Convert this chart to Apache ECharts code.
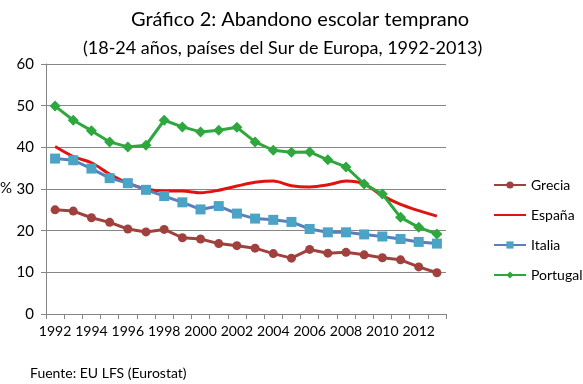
<!DOCTYPE html>
<html><head><meta charset="utf-8">
<script src="https://cdn.jsdelivr.net/npm/echarts@6/dist/echarts.min.js"></script>
<style>html,body{margin:0;padding:0;background:#fff}#c{width:583px;height:384px}</style>
</head><body><div id="c"></div>
<script>
var years = ['1992','1993','1994','1995','1996','1997','1998','1999','2000','2001','2002','2003','2004','2005','2006','2007','2008','2009','2010','2011','2012','2013'];
var grecia = [25.0,24.7,23.1,22.0,20.4,19.7,20.3,18.3,18.0,16.9,16.4,15.8,14.5,13.4,15.5,14.6,14.8,14.2,13.5,13.0,11.3,9.9];
var espana = [40.2,37.8,36.3,33.6,31.4,30.0,29.5,29.5,29.1,29.7,30.7,31.6,31.9,30.8,30.5,31.0,31.9,31.2,28.4,26.3,24.8,23.5];
var italia = [37.3,36.9,34.9,32.6,31.4,29.8,28.3,26.8,25.1,25.9,24.1,22.9,22.6,22.1,20.4,19.6,19.6,19.1,18.6,18.0,17.3,16.9];
var portugal = [49.9,46.5,44.0,41.3,40.1,40.5,46.5,44.9,43.7,44.1,44.8,41.3,39.3,38.8,38.9,37.0,35.3,31.2,28.8,23.2,20.8,19.2];
var yTicks = [0,10,20,30,40,50,60];
var FONT = 'Lato, "Open Sans", sans-serif';
var chart = echarts.init(document.getElementById('c'), null, {renderer:'canvas'});
chart.setOption({
  animation:false,
  backgroundColor:'#fff',
  title:[
    {text:'Gráfico 2: Abandono escolar temprano', left:126, top:5, textStyle:{fontFamily:FONT,fontSize:20,fontWeight:'normal',color:'#000'}},
    {text:'(18-24 años, países del Sur de Europa, 1992-2013)', left:78, top:34, textStyle:{fontFamily:FONT,fontSize:18,fontWeight:'normal',color:'#000'}}
  ],
  grid:{left:46,right:137,top:64,bottom:70},
  legend:{
    orient:'vertical', left:488, top:173, itemGap:16, itemWidth:32, itemHeight:9,
    textStyle:{fontFamily:FONT,fontSize:14,color:'#000'},
    data:['Grecia',{name:'España',itemStyle:{opacity:0}},'Italia','Portugal']
  },
  xAxis:{
    type:'category', data:years, boundaryGap:true,
    axisLine:{lineStyle:{color:'#868686',width:1}},
    axisTick:{show:true,length:5,lineStyle:{color:'#868686'},interval:0},
    axisLabel:{interval:1,fontFamily:FONT,fontSize:14,color:'#000',margin:10}
  },
  yAxis:{
    type:'value', min:0, max:60, interval:10,
    axisLine:{show:true,lineStyle:{color:'#868686'}},
    axisTick:{show:true,length:5,lineStyle:{color:'#868686'}},
    splitLine:{lineStyle:{color:'#868686',width:1}},
    axisLabel:{fontFamily:FONT,fontSize:15,color:'#000',margin:12}
  },
  graphic:[
    {type:'text',left:0,top:181,style:{text:'%',fontFamily:FONT,fontSize:15,fill:'#000'}},
    {type:'text',left:30,top:366,style:{text:'Fuente: EU LFS (Eurostat)',fontFamily:FONT,fontSize:14,fill:'#000'}}
  ],
  series:[
    {name:'Grecia',type:'line',data:grecia,symbol:'circle',symbolSize:9,
     lineStyle:{color:'#A0413E',width:3},itemStyle:{color:'#A0413E'}},
    {name:'España',type:'line',data:espana,symbol:'none',smooth:0.3,
     lineStyle:{color:'#E0140F',width:3},itemStyle:{color:'#E0140F'}},
    {name:'Italia',type:'line',data:italia,symbol:'rect',symbolSize:10,
     lineStyle:{color:'#5B7FBA',width:3},itemStyle:{color:'#4BA3C6'}},
    {name:'Portugal',type:'line',data:portugal,symbol:'diamond',symbolSize:11,
     lineStyle:{color:'#2EA83E',width:3},itemStyle:{color:'#2EA83E'}}
  ]
});
</script></body></html>
